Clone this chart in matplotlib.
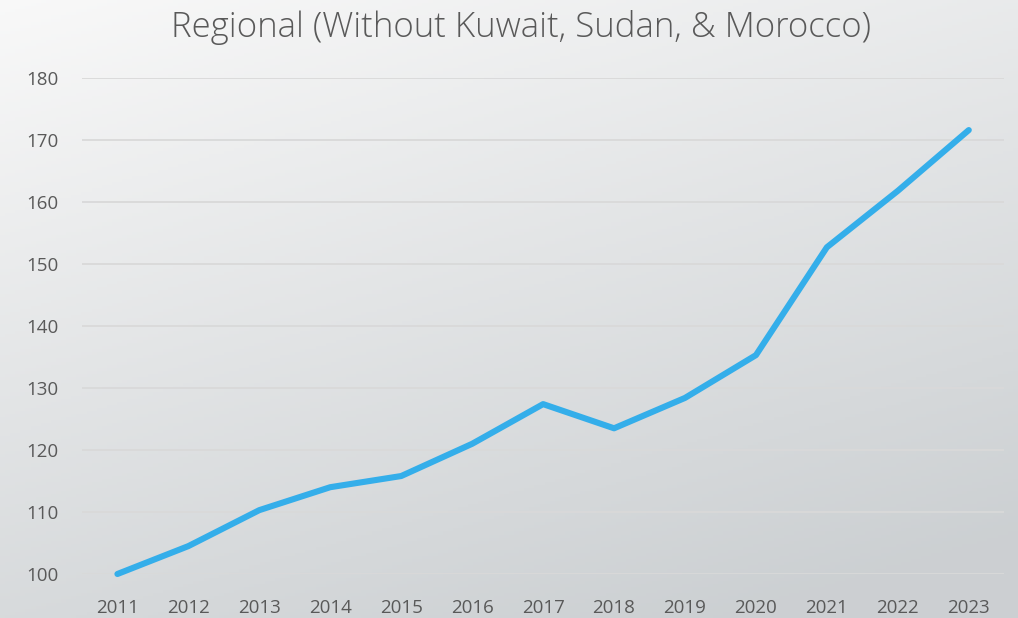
import numpy as np
import matplotlib.pyplot as plt

years = ['2011', '2012', '2013', '2014', '2015', '2016', '2017',
         '2018', '2019', '2020', '2021', '2022', '2023']
index_vals = [100.0, 104.5, 110.3, 114.0, 115.8, 121.0, 127.4,
              123.5, 128.4, 135.3, 152.7, 161.8, 171.6]
yticks = [100, 110, 120, 130, 140, 150, 160, 170, 180]

plt.rcParams['font.family'] = ['Open Sans', 'DejaVu Sans']

fig = plt.figure(figsize=(10.18, 6.18), dpi=100)

# gradient background, light top-left to grey bottom-right
bg = fig.add_axes([0, 0, 1, 1], zorder=-10)
gx, gy = np.meshgrid(np.linspace(0, 1, 200), np.linspace(0, 1, 200))
t = np.clip(0.35 * gx + 0.75 * gy, 0, 1)
c0 = np.array([0.975, 0.975, 0.975])
c1 = np.array([0.80, 0.815, 0.825])
img = c0 + (c1 - c0) * t[..., None]
bg.imshow(img, aspect='auto', extent=[0, 1, 0, 1], origin='upper')
bg.axis('off')

ax = fig.add_axes([0.0805, 0.0712, 0.906, 0.8026])
ax.patch.set_alpha(0)
x = np.arange(len(years))
ax.plot(x, index_vals, color='#34aeea', lw=4.4, solid_capstyle='round',
        solid_joinstyle='round', clip_on=False, zorder=3)

ax.set_xlim(-0.5, len(years) - 0.5)
ax.set_ylim(100, 180)
ax.set_yticks(yticks)
ax.set_xticks(x)
ax.set_xticklabels(years)
ax.grid(axis='y', color='#d9d9d9', lw=1.3)
ax.set_axisbelow(True)
for s in ax.spines.values():
    s.set_visible(False)
ax.tick_params(axis='both', length=0, labelsize=13.5, colors='#595959')
ax.tick_params(axis='x', pad=18)
ax.tick_params(axis='y', pad=17)

fig.text(0.512, 0.955, 'Regional (Without Kuwait, Sudan, & Morocco)',
         ha='center', va='center', fontsize=25, color='#595959',
         fontweight='light')

fig.savefig('out.png', dpi=100)
